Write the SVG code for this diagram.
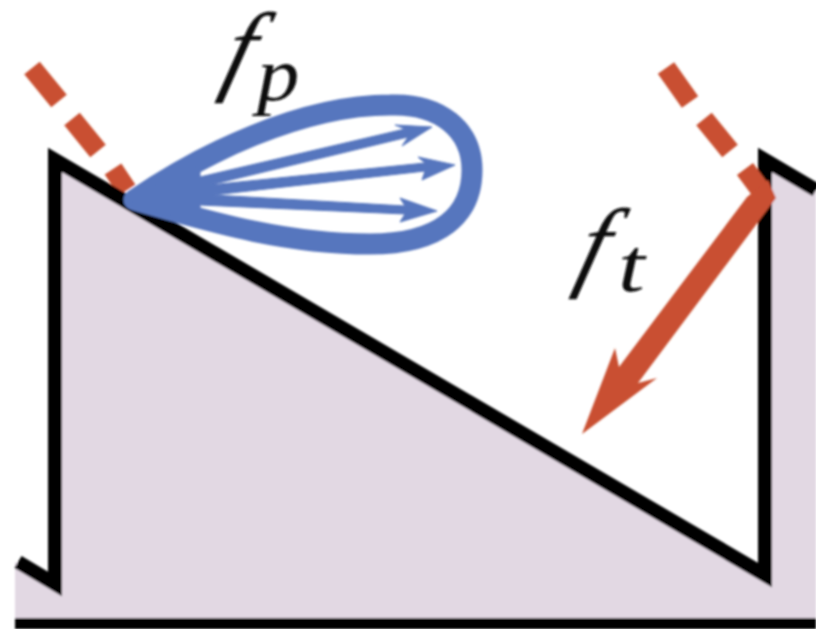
<svg xmlns="http://www.w3.org/2000/svg" width="816" height="629" viewBox="0 0 816 629">
<style>
.m{font-family:"Liberation Serif","Times New Roman",serif;font-style:italic;fill:#111}
.dash{fill:none;stroke:#C94F30;stroke-width:20}
</style>
<defs><filter id="soft" x="-5%" y="-5%" width="110%" height="110%"><feGaussianBlur stdDeviation="0.9"/></filter></defs>
<rect width="816" height="629" fill="#fff"/>
<g filter="url(#soft)">
<g id="surface">
<path d="M15,562 L55,585 V160 L765,575 V160 L816,190 V629 H15 Z" fill="#E2D8E3"/>
<rect x="15" y="618" width="801" height="11" fill="#000"/>
</g>
<g id="thrust-line-left">
<path class="dash" d="M32,68 L59,101 M72,119 L98,151 M113,169 L127,190"/>
</g>
<g id="sawtooth">
<path d="M18,562 L55,584 V160 L765,575 V160 L816,190" fill="none" stroke="#000" stroke-width="14" stroke-miterlimit="8"/>
</g>
<g id="thrust-line-right">
<path class="dash" d="M666,68 L690,102 M704,119 L730,151 M745,169 L762,192"/>
</g>
<g id="thrust-arrow">
<path d="M747,197 L768,180 L776,198 L638,383 L657,378 L582,434 L615,348 L619,367 Z" fill="#C94F30"/>
</g>
<g id="lobe">
<path d="M134,200 C200,155 300,105 390,105 C440,103 472,130 472,170 C472,215 440,244 370,244 C290,244 220,225 134,200 Z" fill="none" stroke="#5676BE" stroke-width="21" stroke-linejoin="round"/>
<path d="M124,199 L200,165 L200,177 L405,129 L395,125 L432,127 L402,146 L408,137 L210,185 L425,163 L418,157 L455,165 L422,180 L425,171 L213,195 L405,206 L400,198 L437,211 L400,222 L405,214 L200,205 L200,225 Z" fill="#5676BE" stroke="#5676BE" stroke-width="1"/>
</g>
<g id="labels">
<text class="m" font-size="100" transform="translate(219,82) skewX(-15)">f</text>
<text class="m" font-size="77" transform="translate(257,100) scale(1.1,1)">p</text>
<text class="m" font-size="100" transform="translate(573,278) skewX(-15)">f</text>
<text class="m" font-size="77" transform="translate(618,291) scale(1.25,1)">t</text>
</g>
</g>
</svg>
